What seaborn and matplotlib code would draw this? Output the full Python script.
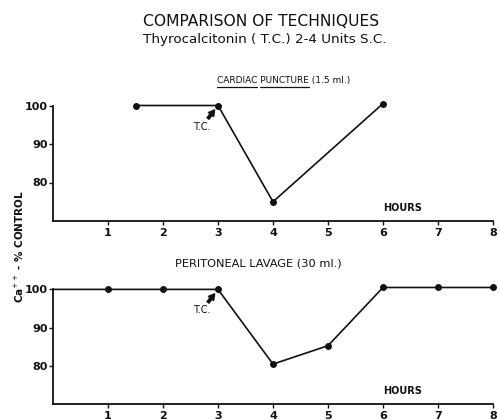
import matplotlib
matplotlib.use("Agg")
import matplotlib.pyplot as plt
import seaborn as sns
import pandas as pd
from matplotlib.lines import Line2D

# ---- data ----
hour_ticks = [1, 2, 3, 4, 5, 6, 7, 8]
pct_ticks = [80, 90, 100]

cardiac_hours = [1.5, 3, 4, 6]
cardiac_values = [100, 100, 75, 100.5]

lavage_hours = [0, 1, 2, 3, 4, 5, 6, 7, 8]
lavage_values = [100, 100, 100, 100, 80.5, 85.3, 100.5, 100.5, 100.5]

injection_hour = 3
injection_value = 100

title_line1 = "COMPARISON OF TECHNIQUES"
title_line2 = "Thyrocalcitonin ( T.C.) 2-4 Units S.C."
ylabel = "Ca$^{++}$ - % CONTROL"

sns.set_theme(style="ticks")
plt.rcParams["font.family"] = ["DejaVu Sans"]

W, H = 498, 420
fig = plt.figure(figsize=(W / 100, H / 100), dpi=100)


def add_axes_px(left, bottom_px, right, top_px):
    return fig.add_axes([left / W, 1 - bottom_px / H, (right - left) / W, (bottom_px - top_px) / H])


ax1 = add_axes_px(53, 221, 493, 221 - 31.5 * 3.85)
ax2 = add_axes_px(53, 404.3, 493, 404.3 - 31.5 * 3.83)

ink = "#111111"

df1 = pd.DataFrame({"hours": cardiac_hours, "value": cardiac_values})
df2 = pd.DataFrame({"hours": lavage_hours, "value": lavage_values})

sns.lineplot(data=df1, x="hours", y="value", ax=ax1, color=ink, linewidth=1.2,
             marker="o", markersize=5, markeredgewidth=0, clip_on=False)
sns.lineplot(data=df2, x="hours", y="value", ax=ax2, color=ink, linewidth=1.2,
             marker="o", markersize=5, markeredgewidth=0, clip_on=False,
             markevery=list(range(1, len(lavage_hours))))

for ax in (ax1, ax2):
    ax.set_xlim(0, 8)
    ax.set_ylim(70, 101.5)
    ax.set_xticks(hour_ticks)
    ax.set_xticklabels([str(h) for h in hour_ticks], fontsize=8, fontweight="bold")
    ax.set_yticks(pct_ticks)
    ax.set_yticklabels([str(p) for p in pct_ticks], fontsize=8, fontweight="bold")
    ax.tick_params(axis="x", direction="out", length=3, width=1, pad=2, colors=ink)
    ax.tick_params(axis="y", direction="out", length=3, width=1, pad=1, colors=ink)
    for s in ("top", "right"):
        ax.spines[s].set_visible(False)
    for s in ("left", "bottom"):
        ax.spines[s].set_linewidth(1.3)
        ax.spines[s].set_color(ink)
    ax.spines["left"].set_bounds(70, 100)
    ax.set_xlabel("")
    ax.set_ylabel("")
    ax.patch.set_alpha(0)
    ax.text(6.35, 73.5, "HOURS", fontsize=7, fontweight="bold", ha="center", va="center", color=ink)
    # T.C. label and its arrow
    ax.annotate("T.C.", xy=(injection_hour, injection_value), xytext=(-16, -21),
                textcoords="offset pixels", fontsize=7, ha="center", va="center", color=ink)
    ax.annotate("", xy=(injection_hour, injection_value), xytext=(-10, -13),
                textcoords="offset pixels",
                arrowprops=dict(arrowstyle="simple,head_length=0.7,head_width=0.8,tail_width=0.3",
                                color=ink, shrinkA=0, shrinkB=4, mutation_scale=6))

fig.text(143 / W, 1 - 21 / H, title_line1, fontsize=11.2, ha="left", va="center", color=ink)
fig.text(143 / W, 1 - 40 / H, title_line2, fontsize=9.7, ha="left", va="center", color=ink)

# panel headings
SUB1_FS = 6.5
fig.text(217 / W, 1 - 81 / H, "CARDIAC PUNCTURE (1.5 ml.)", fontsize=SUB1_FS, ha="left",
         va="center", color=ink)
fig.text(258 / W, 1 - 263 / H, "PERITONEAL LAVAGE (30 ml.)", fontsize=8.2, ha="center",
         va="center", color=ink)

fig.text(19 / W, 1 - 247 / H, ylabel, rotation=90, fontsize=7.5, fontweight="bold",
         ha="center", va="center", color=ink)

# underline CARDIAC and PUNCTURE
fig.canvas.draw()
r = fig.canvas.get_renderer()


def width_px(s):
    t = fig.text(0, 0, s, fontsize=SUB1_FS)
    w = t.get_window_extent(renderer=r).width
    t.remove()
    return w


x0 = 217
w_c = width_px("CARDIAC")
off_p = width_px("CARDIAC ")
w_p = width_px("PUNCTURE")
uy = 1 - 87 / H
fig.add_artist(Line2D([x0 / W, (x0 + w_c) / W], [uy, uy], transform=fig.transFigure, color=ink, lw=0.9))
fig.add_artist(Line2D([(x0 + off_p) / W, (x0 + off_p + w_p) / W], [uy, uy], transform=fig.transFigure,
                      color=ink, lw=0.9))

fig.savefig("out.png", dpi=100, facecolor="white")
